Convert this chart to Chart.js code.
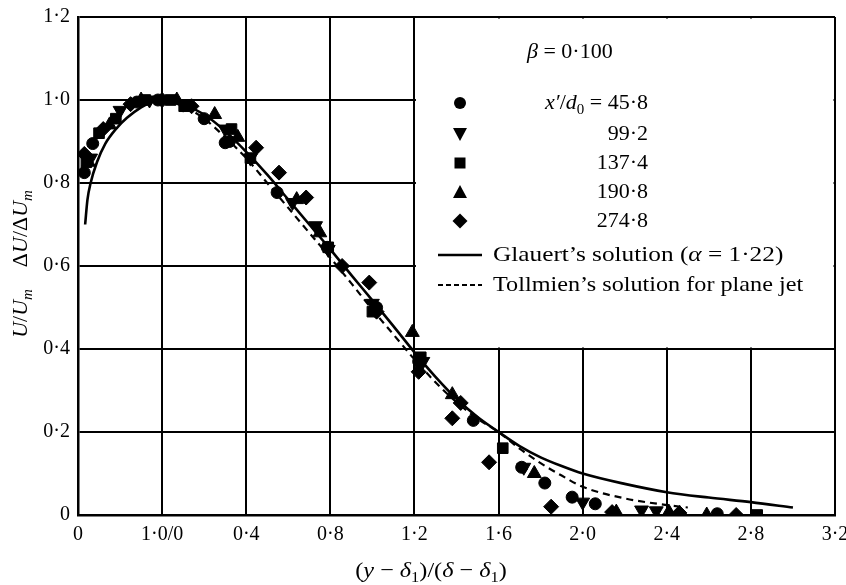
<!DOCTYPE html>
<html>
<head>
<meta charset="utf-8">
<script src="https://cdn.jsdelivr.net/npm/chart.js@4.4.0/dist/chart.umd.min.js"></script>
<style>
  html, body { margin: 0; padding: 0; background: #fff; }
  #wrap { width: 846px; height: 585px; }
</style>
</head>
<body>
<div id="wrap"><canvas id="chart" width="846" height="585"></canvas></div>
<script>
// x is measured so that 0 is the peak (the "1·0/0" tick); -0.4 is the left "0" tick
const xTicks = [-0.4, 0, 0.4, 0.8, 1.2, 1.6, 2.0, 2.4, 2.8, 3.2];
const yTicks = [0, 0.2, 0.4, 0.6, 0.8, 1.0, 1.2];

// x'/d0 = 45.8 (circles)
const circX = [-0.37, -0.33, -0.12, -0.02, 0.2, 0.3, 0.32, 0.547, 0.785, 1.02, 1.22, 1.48, 1.71, 1.82, 1.95, 2.06, 2.64];
const circY = [0.825, 0.895, 0.995, 1.0, 0.955, 0.897, 0.9, 0.777, 0.645, 0.5, 0.37, 0.228, 0.115, 0.077, 0.043, 0.027, 0.003];
// 99.2 (down triangles)
const downX = [-0.34, -0.2, -0.06, 0.1, 0.3, 0.42, 0.62, 0.73, 0.79, 1.0, 1.24, 1.72, 2.0, 2.28, 2.35];
const downY = [0.86, 0.975, 1.0, 0.99, 0.93, 0.86, 0.753, 0.697, 0.64, 0.51, 0.37, 0.115, 0.031, 0.012, 0.01];
// 137.4 (squares)
const sqX = [-0.36, -0.3, -0.22, -0.08, 0.04, 0.105, 0.33, 0.42, 0.79, 1.0, 1.23, 1.62, 2.83];
const sqY = [0.85, 0.92, 0.955, 1.0, 1.0, 0.985, 0.93, 0.86, 0.645, 0.49, 0.38, 0.161, 0.0];
// 190.8 (up triangles)
const upX = [-0.35, -0.25, -0.1, 0.07, 0.25, 0.36, 0.64, 0.75, 1.19, 1.38, 1.77, 2.16, 2.41, 2.59];
const upY = [0.85, 0.94, 1.0, 1.0, 0.965, 0.91, 0.76, 0.68, 0.44, 0.29, 0.1, 0.007, 0.007, 0.0];
// 274.8 (diamonds)
const diaX = [-0.37, -0.28, -0.15, 0.0, 0.14, 0.447, 0.556, 0.685, 0.856, 0.985, 1.02, 1.22, 1.38, 1.42, 1.555, 1.85, 2.14, 2.46, 2.73];
const diaY = [0.87, 0.93, 0.99, 1.0, 0.985, 0.885, 0.825, 0.765, 0.6, 0.56, 0.49, 0.345, 0.233, 0.27, 0.127, 0.02, 0.007, 0.005, 0.0];

// Glauert's solution (alpha = 1.22)
const glauertX = [-0.366, -0.355, -0.34, -0.31, -0.27, -0.22, -0.167, -0.1, -0.05, 0, 0.1, 0.2, 0.3, 0.4, 0.5, 0.6, 0.7, 0.8, 0.9, 1.0, 1.1, 1.2, 1.3, 1.4, 1.5, 1.6, 1.7, 1.8, 1.9, 2.0, 2.2, 2.4, 2.6, 2.8, 3.0];
const glauertY = [0.70, 0.76, 0.80, 0.85, 0.895, 0.93, 0.957, 0.982, 0.995, 1.0, 0.99, 0.965, 0.925, 0.875, 0.82, 0.76, 0.70, 0.64, 0.578, 0.517, 0.455, 0.392, 0.333, 0.28, 0.236, 0.20, 0.166, 0.139, 0.118, 0.10, 0.075, 0.055, 0.042, 0.031, 0.018];
// Tollmien's solution for plane jet
const tollX = [0, 0.1, 0.2, 0.3, 0.4, 0.5, 0.6, 0.7, 0.8, 0.9, 1.0, 1.1, 1.2, 1.3, 1.4, 1.5, 1.6, 1.7, 1.8, 1.9, 2.0, 2.2, 2.4, 2.5];
const tollY = [1.0, 0.985, 0.955, 0.91, 0.86, 0.80, 0.74, 0.68, 0.62, 0.558, 0.495, 0.435, 0.375, 0.32, 0.272, 0.232, 0.20, 0.16, 0.125, 0.095, 0.068, 0.04, 0.024, 0.018];

const SERIF = '"Liberation Serif", "DejaVu Serif", serif';
const pts = (xs, ys) => xs.map((x, i) => ({ x, y: ys[i] }));
const dot = v => v.toFixed(1).replace('.', '·');

function markerSet(label, xs, ys, style, radius, rotation) {
  return {
    label, data: pts(xs, ys), showLine: false,
    pointStyle: style, pointRadius: radius, pointRotation: rotation || 0,
    backgroundColor: '#000', borderColor: '#000', borderWidth: 1
  };
}

// mixed italic / subscript text, optionally stretched horizontally by sx
function richWidth(ctx, parts, size, sx) {
  let w = 0;
  parts.forEach(p => {
    const s = p.sub ? size * 0.68 : size;
    ctx.font = (p.it ? 'italic ' : '') + s + 'px ' + SERIF;
    w += ctx.measureText(p.t).width;
  });
  return w * (sx || 1);
}
function drawRich(ctx, parts, x, y, size, sx) {
  ctx.save();
  ctx.translate(x, y);
  ctx.scale(sx || 1, 1);
  ctx.textBaseline = 'middle';
  ctx.textAlign = 'left';
  let cx = 0;
  parts.forEach(p => {
    const s = p.sub ? size * 0.68 : size;
    ctx.font = (p.it ? 'italic ' : '') + s + 'px ' + SERIF;
    ctx.fillText(p.t, cx, p.sub ? size * 0.3 : 0);
    cx += ctx.measureText(p.t).width;
  });
  ctx.restore();
}

const legendPlugin = {
  id: 'legendBox',
  beforeDatasetsDraw(chart) {
    const { ctx, scales: { x, y }, chartArea } = chart;
    const l = x.getPixelForValue(1.2) + 1.5, b = y.getPixelForValue(0.4) - 1.5;
    ctx.save();
    ctx.fillStyle = '#fff';
    ctx.fillRect(l, chartArea.top + 1.5, chartArea.right - 1.5 - l, b - chartArea.top - 1.5);
    ctx.restore();
  },
  afterDraw(chart) {
    const ctx = chart.ctx;
    ctx.save();
    ctx.fillStyle = '#000';
    ctx.strokeStyle = '#000';

    drawRich(ctx, [{ t: 'β', it: true }, { t: ' = 0·100' }], 527, 52, 22);

    // marker keys
    const mx = 460;
    ctx.beginPath(); ctx.arc(mx, 103, 6, 0, Math.PI * 2); ctx.fill();
    ctx.beginPath(); ctx.moveTo(mx - 7, 128); ctx.lineTo(mx + 7, 128); ctx.lineTo(mx, 141); ctx.closePath(); ctx.fill();
    ctx.fillRect(mx - 5.5, 157.5, 11, 11);
    ctx.beginPath(); ctx.moveTo(mx - 7, 198); ctx.lineTo(mx + 7, 198); ctx.lineTo(mx, 185); ctx.closePath(); ctx.fill();
    ctx.beginPath(); ctx.moveTo(mx, 213.5); ctx.lineTo(mx + 7.5, 221); ctx.lineTo(mx, 228.5); ctx.lineTo(mx - 7.5, 221); ctx.closePath(); ctx.fill();

    const right = 648;
    const first = [{ t: 'x′', it: true }, { t: '/' }, { t: 'd', it: true }, { t: '0', sub: true }, { t: ' = 45·8' }];
    drawRich(ctx, first, right - richWidth(ctx, first, 22), 103, 22);
    [['99·2', 134], ['137·4', 163], ['190·8', 192], ['274·8', 221]].forEach(([t, yy]) => {
      ctx.font = '22px ' + SERIF; ctx.textAlign = 'right'; ctx.textBaseline = 'middle';
      ctx.fillText(t, right, yy);
    });

    // line keys
    ctx.lineWidth = 2.5;
    ctx.beginPath(); ctx.moveTo(438, 255); ctx.lineTo(482, 255); ctx.stroke();
    ctx.setLineDash([5, 3]); ctx.lineWidth = 2;
    ctx.beginPath(); ctx.moveTo(438, 285); ctx.lineTo(482, 285); ctx.stroke();
    ctx.setLineDash([]);
    drawRich(ctx, [{ t: 'Glauert’s solution (' }, { t: 'α', it: true }, { t: ' = 1·22)' }], 493, 255, 22, 1.15);
    drawRich(ctx, [{ t: 'Tollmien’s solution for plane jet' }], 493, 285, 22, 1.1);

    // x axis title
    const xt = [{ t: '(' }, { t: 'y', it: true }, { t: ' − ' }, { t: 'δ', it: true }, { t: '1', sub: true },
      { t: ')/(' }, { t: 'δ', it: true }, { t: ' − ' }, { t: 'δ', it: true }, { t: '1', sub: true }, { t: ')' }];
    drawRich(ctx, xt, 431 - richWidth(ctx, xt, 22, 1.1) / 2, 571, 22, 1.1);

    // y axis title (rotated)
    const yt = [{ t: 'U', it: true }, { t: '/' }, { t: 'U', it: true }, { t: 'm', it: true, sub: true }, { t: '    Δ' },
      { t: 'U', it: true }, { t: '/Δ' }, { t: 'U', it: true }, { t: 'm', it: true, sub: true }];
    ctx.translate(21, 264);
    ctx.rotate(-Math.PI / 2);
    drawRich(ctx, yt, -richWidth(ctx, yt, 22) / 2, 0, 22);
    ctx.restore();
  }
};

new Chart(document.getElementById('chart'), {
  type: 'scatter',
  data: {
    datasets: [
      {
        label: 'Glauert', data: pts(glauertX, glauertY), showLine: true, pointRadius: 0,
        borderColor: '#000', borderWidth: 2.6, cubicInterpolationMode: 'monotone'
      },
      {
        label: 'Tollmien', data: pts(tollX, tollY), showLine: true, pointRadius: 0,
        borderColor: '#000', borderWidth: 2.2, borderDash: [7, 5], cubicInterpolationMode: 'monotone'
      },
      markerSet('45.8', circX, circY, 'circle', 6),
      markerSet('99.2', downX, downY, 'triangle', 8, 180),
      markerSet('137.4', sqX, sqY, 'rect', 7.5),
      markerSet('190.8', upX, upY, 'triangle', 8),
      markerSet('274.8', diaX, diaY, 'rectRot', 7.5)
    ]
  },
  options: {
    responsive: false,
    animation: false,
    layout: { padding: { top: 17, right: 0, left: 0, bottom: 0 } },
    plugins: { legend: { display: false }, tooltip: { enabled: false } },
    scales: {
      x: {
        type: 'linear', min: -0.4, max: 3.2,
        afterBuildTicks: s => { s.ticks = xTicks.map(v => ({ value: v })); },
        afterFit: s => { s.height = 70; s.paddingRight = 11; s.paddingLeft = 0; },
        grid: { color: '#000', lineWidth: 2, drawTicks: false },
        border: { color: '#000', width: 2.5 },
        ticks: {
          color: '#000', padding: 8, font: { family: SERIF, size: 20 }, maxRotation: 0,
          callback: v => Math.abs(v + 0.4) < 1e-6 ? '0' : Math.abs(v) < 1e-6 ? '1·0/0' : dot(v)
        }
      },
      y: {
        min: 0, max: 1.2,
        afterBuildTicks: s => { s.ticks = yTicks.map(v => ({ value: v })); },
        afterFit: s => { s.width = 78; s.paddingTop = 0; s.paddingBottom = 0; },
        grid: { color: '#000', lineWidth: 2, drawTicks: false },
        border: { color: '#000', width: 2.5 },
        ticks: {
          color: '#000', padding: 8, font: { family: SERIF, size: 20 },
          callback: v => v === 0 ? '0' : dot(v)
        }
      }
    }
  },
  plugins: [legendPlugin]
});
</script>
</body>
</html>
